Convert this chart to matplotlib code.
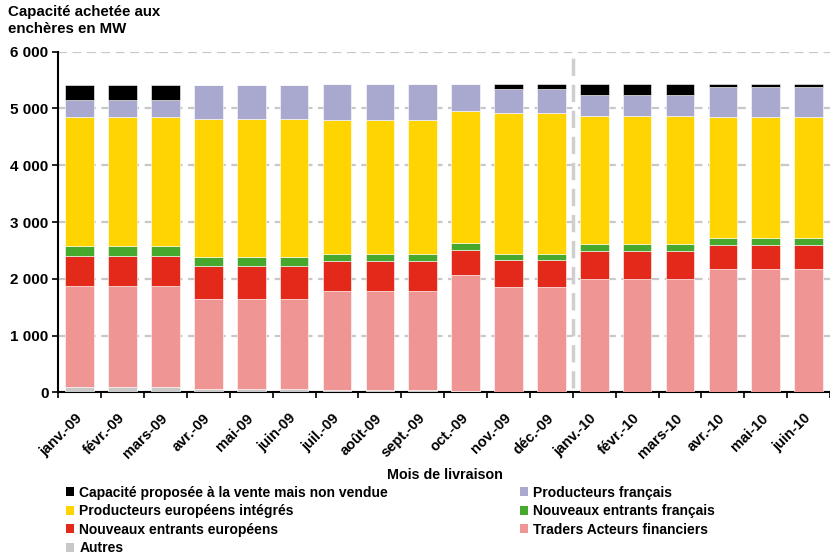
import matplotlib
matplotlib.use("Agg")
import matplotlib.pyplot as plt
from matplotlib.patches import Patch
import numpy as np

plt.rcParams['font.family'] = ['Liberation Sans', 'DejaVu Sans']
plt.rcParams['font.weight'] = 'bold'

months = ["janv.-09", "févr.-09", "mars-09", "avr.-09", "mai-09", "juin-09",
          "juil.-09", "août-09", "sept.-09", "oct.-09", "nov.-09", "déc.-09",
          "janv.-10", "févr.-10", "mars-10", "avr.-10", "mai-10", "juin-10"]

# Capacity bought at auction (MW), per buyer category, stacked bottom to top
autres = [100, 100, 100, 60, 60, 60, 40, 40, 40, 20, 0, 0,
          0, 0, 0, 0, 0, 0]
traders = [1775, 1775, 1775, 1585, 1585, 1585, 1745, 1745, 1745, 2042, 1861, 1861,
           1996, 1996, 1996, 2173, 2173, 2173]
nouveaux_eu = [530, 530, 530, 581, 581, 581, 528, 528, 528, 451, 476, 476,
               499, 499, 499, 417, 417, 417]
nouveaux_fr = [173, 173, 173, 159, 159, 159, 129, 129, 129, 118, 100, 100,
               124, 124, 124, 135, 135, 135]
producteurs_eu = [2268, 2268, 2268, 2437, 2437, 2437, 2356, 2356, 2356, 2326, 2479, 2479,
                  2244, 2244, 2244, 2121, 2121, 2121]
producteurs_fr = [310, 310, 310, 599, 599, 599, 635, 635, 635, 476, 428, 428,
                  381, 381, 381, 534, 534, 534]
non_vendue = [254, 254, 254, 0, 0, 0, 0, 0, 0, 0, 89, 89,
              189, 189, 189, 53, 53, 53]

series = [
    ("Autres", autres, "#c8c8c8"),
    ("Traders Acteurs financiers", traders, "#ef9593"),
    ("Nouveaux entrants européens", nouveaux_eu, "#e3291a"),
    ("Nouveaux entrants français", nouveaux_fr, "#46a82c"),
    ("Producteurs européens intégrés", producteurs_eu, "#ffd400"),
    ("Producteurs français", producteurs_fr, "#a9a9cf"),
    ("Capacité proposée à la vente mais non vendue", non_vendue, "#000000"),
]

fig = plt.figure(figsize=(8.3, 5.56), dpi=100)
ax = fig.add_axes([58.3 / 830, 1 - 392.3 / 556, 1 - 58.3 / 830, (392.3 - 51.7) / 556])

x = np.arange(len(months))
bottom = np.zeros(len(months))
handles = {}
for name, vals, color in series:
    vals = np.array(vals, dtype=float)
    ax.bar(x, vals, bottom=bottom, width=0.667, color=color,
           edgecolor='white', linewidth=0.4, zorder=3)
    bottom += vals
    handles[name] = Patch(facecolor=color, edgecolor='none')

ax.set_ylim(0, 6000)
ax.set_xlim(-0.5, 17.42)
ax.set_yticks(np.arange(0, 6001, 1000))
ax.set_yticklabels(["0", "1 000", "2 000", "3 000", "4 000", "5 000", "6 000"],
                   fontsize=11, fontweight='bold')
ax.yaxis.grid(True, color='#c8c8c8', linestyle=(0, (4, 2.5)), linewidth=1.6, zorder=0)
ax.set_axisbelow(True)

# ticks sit on category boundaries, labels under bar centres
ax.set_xticks(np.arange(-0.5, 18, 1.0))
ax.set_xticklabels([])
ax.set_xticks(x, minor=True)
ax.set_xticklabels(months, minor=True, rotation=45, ha='right', va='center',
                   rotation_mode='anchor', fontsize=10.5, fontweight='bold')
ax.tick_params(axis='x', which='minor', length=0, pad=17)
ax.tick_params(axis='x', which='major', length=4, width=1.2, direction='out')
ax.tick_params(axis='y', length=4, width=1.2, direction='out', pad=3)

for side in ['top', 'right']:
    ax.spines[side].set_visible(False)
for side in ['left', 'bottom']:
    ax.spines[side].set_linewidth(1.5)

# separator between the 2009 and 2010 delivery months
ax.plot([11.5, 11.5], [70, 6000], color='#cfcfcf', linewidth=2.5,
        linestyle=(0, (5, 2.5)), zorder=4, clip_on=False)

fig.text(8 / 830, 1 - 20.5 / 556, "Capacité achetée aux\nenchères en MW",
         fontsize=10.8, fontweight='bold', va='center', ha='left', linespacing=1.2)

fig.text(445 / 830, 1 - 475 / 556, "Mois de livraison", fontsize=10.3,
         fontweight='bold', ha='center', va='center')

order = ["Capacité proposée à la vente mais non vendue", "Producteurs européens intégrés",
         "Nouveaux entrants européens", "Autres",
         "Producteurs français", "Nouveaux entrants français",
         "Traders Acteurs financiers"]
leg = fig.legend([handles[n] for n in order], order, loc='upper left',
                 bbox_to_anchor=(66 / 830, 1 - 485.5 / 556), ncol=2,
                 frameon=False, fontsize=10, handlelength=0.6, handleheight=0.6,
                 handletextpad=0.35, columnspacing=9.5, labelspacing=0.33,
                 borderaxespad=0, borderpad=0)
for t in leg.get_texts():
    t.set_fontweight('bold')

fig.savefig("out.png", dpi=100)
